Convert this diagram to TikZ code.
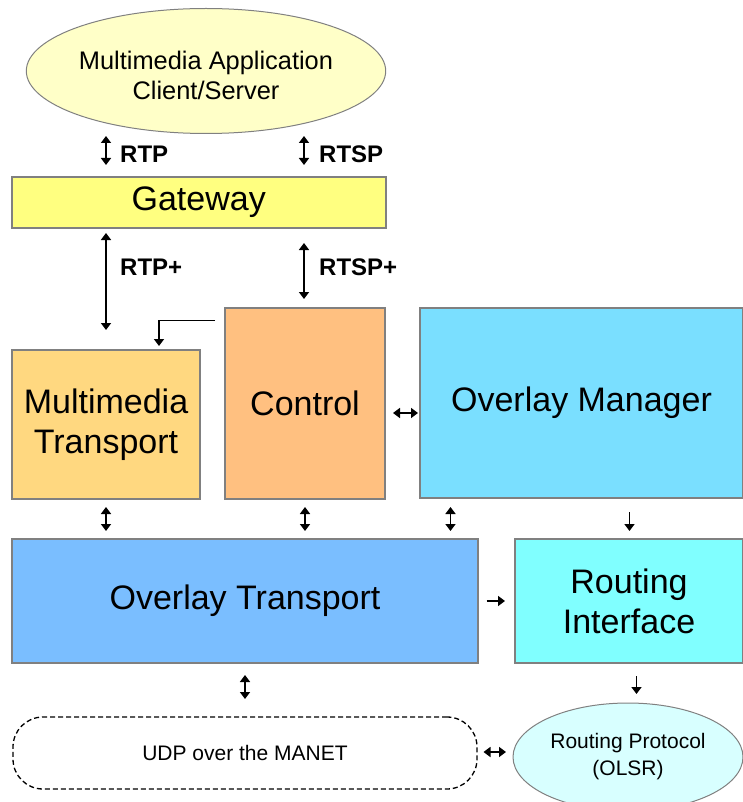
\documentclass[tikz,border=0pt]{standalone}
\usepackage{fontspec}
\setmainfont{Liberation Sans}
\usetikzlibrary{shapes.geometric,arrows.meta}
\definecolor{ellY}{HTML}{FFFFC8}
\definecolor{gwY}{HTML}{FFFF80}
\definecolor{mtO}{HTML}{FFD880}
\definecolor{ctO}{HTML}{FFC080}
\definecolor{omB}{HTML}{7ADFFF}
\definecolor{otB}{HTML}{7ABEFF}
\definecolor{riC}{HTML}{80FFFF}
\definecolor{rpC}{HTML}{D8FFFF}
\definecolor{bord}{HTML}{808080}
\tikzset{
  blk/.style={draw=bord, line width=2pt, rectangle, inner sep=0pt, align=center, font=\fontsize{34}{40}\selectfont},
  ell/.style={draw=bord, line width=1pt, ellipse, inner sep=0pt, align=center},
  arr/.style={-{Triangle[length=7pt,width=10pt]}, line width=1.5pt},
  darr/.style={{Triangle[length=7pt,width=10pt]}-{Triangle[length=7pt,width=10pt]}, line width=1.5pt},
  lbl/.style={anchor=west, inner sep=0pt, font=\bfseries\fontsize{24}{28}\selectfont},
}
\begin{document}
\begin{tikzpicture}[x=1pt,y=-1pt]
\useasboundingbox (0,0) rectangle (742,802);
% nodes
\node[ell, fill=ellY, minimum width=352pt, minimum height=125pt, text height=58pt, text depth=0pt, font=\fontsize{25.4}{30}\selectfont] (app) at (206,71) {Multimedia Application\\Client/Server};
\node[blk, fill=gwY, minimum width=374pt, minimum height=51pt] (gw) at (198.7,202.2) {Gateway};
\node[blk, fill=mtO, minimum width=188pt, minimum height=149pt] (mt) at (106,424.5) {Multimedia\\Transport};
\node[blk, fill=ctO, minimum width=160pt, minimum height=191pt] (ct) at (305,403.5) {Control};
\node[blk, fill=omB, minimum width=323pt, minimum height=190pt] (om) at (581.5,403) {Overlay Manager};
\node[blk, fill=otB, minimum width=466pt, minimum height=124pt] (ot) at (245,601) {Overlay Transport};
\node[blk, fill=riC, minimum width=228pt, minimum height=124pt] (ri) at (629,601) {Routing\\Interface};
\node[draw=black, dash pattern=on 5pt off 3pt, line width=1.3pt, rounded corners=30pt, rectangle, minimum width=464pt, minimum height=72pt, inner sep=0pt, font=\fontsize{21}{25}\selectfont] (udp) at (245,753) {UDP over the MANET};
\node[ell, fill=rpC, minimum width=230pt, minimum height=108pt, font=\fontsize{21}{27}\selectfont] (rp) at (628,757) {Routing Protocol\\(OLSR)};
% coordinates for free connector ends
\coordinate (a1) at (106,136); \coordinate (a2) at (106,165);
\coordinate (b1) at (304,136); \coordinate (b2) at (304,165);
\coordinate (c1) at (106,233); \coordinate (c2) at (106,330);
\coordinate (d1) at (304,243); \coordinate (d2) at (304,299);
\coordinate (e1) at (215,320.7); \coordinate (e2) at (159,320.7); \coordinate (e3) at (159,346);
\coordinate (f1) at (393,413); \coordinate (f2) at (418,413);
\coordinate (g1) at (106,507); \coordinate (g2) at (106,531);
\coordinate (h1) at (305,507); \coordinate (h2) at (305,531);
\coordinate (i1) at (450.5,507); \coordinate (i2) at (450.5,531);
\coordinate (j1) at (629.5,512); \coordinate (j2) at (629.5,531);
\coordinate (k1) at (486.5,601); \coordinate (k2) at (505,601);
\coordinate (l1) at (245,675); \coordinate (l2) at (245,699);
\coordinate (m1) at (636.5,676); \coordinate (m2) at (636.5,694);
\coordinate (n1) at (483.5,752); \coordinate (n2) at (506,752);
% connectors
\draw[darr] (a1) -- (a2);
\draw[darr] (b1) -- (b2);
\node[lbl] (lrtp) at (120,154) {RTP};
\node[lbl] (lrtsp) at (319,154) {RTSP};
\draw[darr] (c1) -- (c2);
\draw[darr] (d1) -- (d2);
\node[lbl] (lrtpp) at (120,267) {RTP+};
\node[lbl] (lrtspp) at (319,267) {RTSP+};
\draw[arr] (e1) -- (e2) -- (e3);
\draw[darr] (f1) -- (f2);
\draw[darr] (g1) -- (g2);
\draw[darr] (h1) -- (h2);
\draw[darr] (i1) -- (i2);
\draw[arr] (j1) -- (j2);
\draw[arr] (k1) -- (k2);
\draw[darr] (l1) -- (l2);
\draw[arr] (m1) -- (m2);
\draw[darr] (n1) -- (n2);
\end{tikzpicture}
\end{document}
